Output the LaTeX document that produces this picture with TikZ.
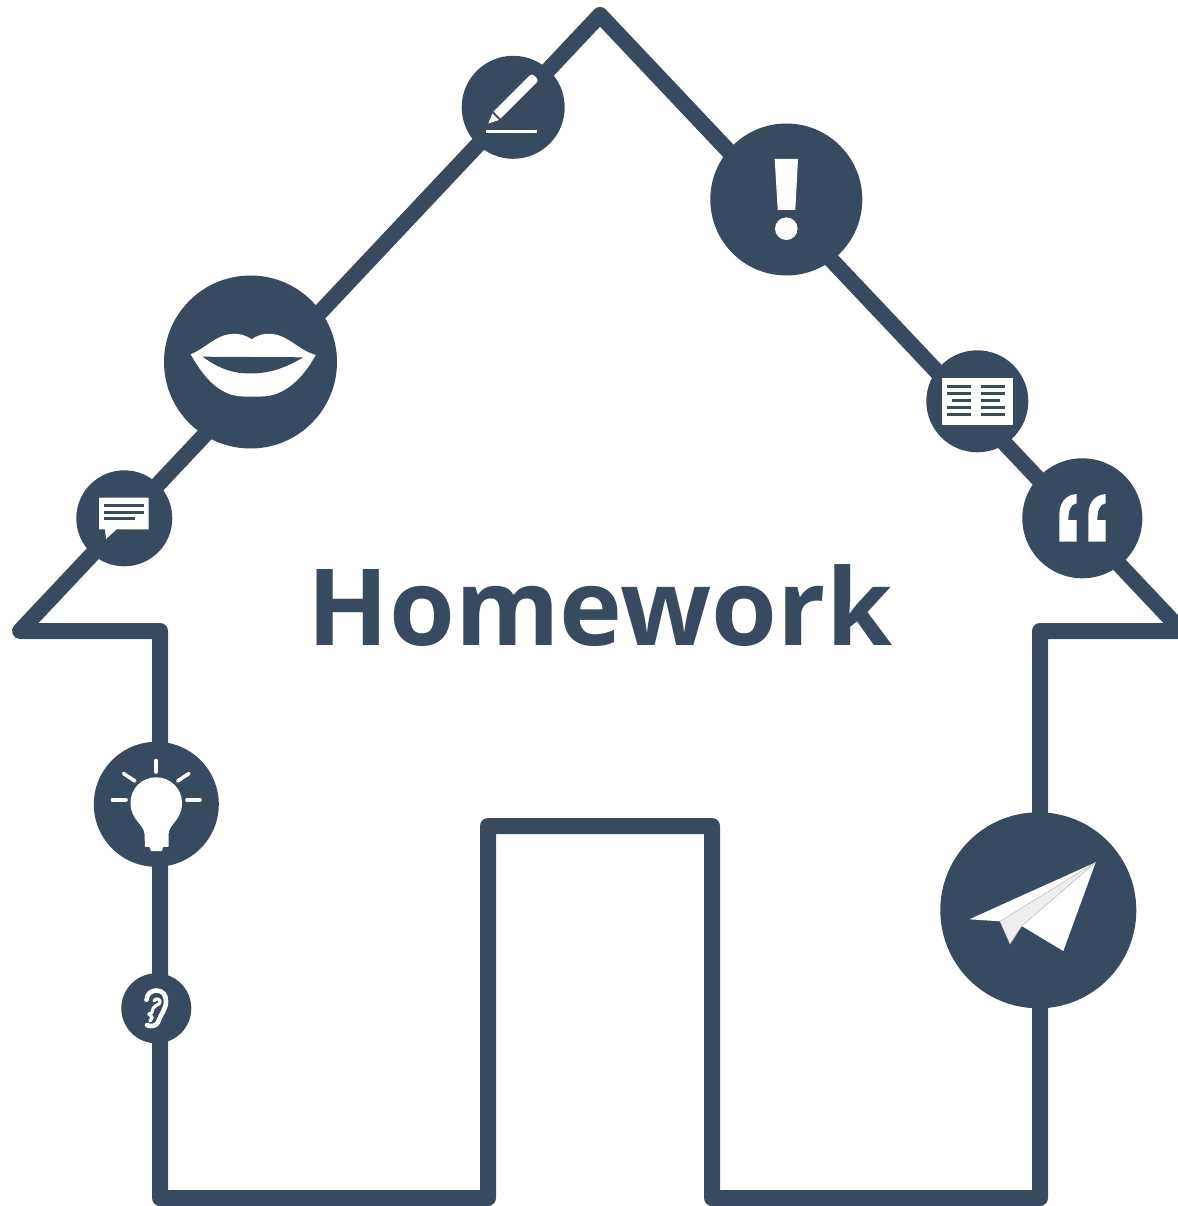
\documentclass[tikz,border=0pt]{standalone}
\usepackage{fontspec}
\setmainfont{Open Sans}
\definecolor{slate}{HTML}{384A60}
\definecolor{fold}{HTML}{EEEEEE}
\tikzset{
  x=1pt,y=-1pt,
  outline/.style={draw=slate,line width=16pt,line join=round,line cap=round},
  disc/.style={circle,fill=slate,draw=none,inner sep=0pt},
  icon/.style={fill=white,draw=none},
  darkbar/.style={draw=slate,line width=3pt},
  ray/.style={draw=white,line width=3.6pt,line cap=round},
  earline/.style={draw=white,line cap=round,line join=round},
}
\begin{document}
\begin{tikzpicture}
\useasboundingbox (0,0) rectangle (1177,1206);
% house outline
\coordinate (apex) at (600,15);
\coordinate (eaveL) at (20,631);
\coordinate (wallL) at (160,631);
\coordinate (footL) at (160,1198);
\coordinate (doorBL) at (488,1198);
\coordinate (doorTL) at (488,826);
\coordinate (doorTR) at (712,826);
\coordinate (doorBR) at (712,1198);
\coordinate (footR) at (1040,1198);
\coordinate (wallR) at (1040,631);
\coordinate (eaveR) at (1182,631);
\draw[outline] (apex) -- (eaveL) -- (wallL) -- (footL) -- (doorBL) -- (doorTL) -- (doorTR) -- (doorBR) -- (footR) -- (wallR) -- (eaveR) -- cycle;
% discs
\node[disc,minimum size=173pt] (mouth) at (250.5,362) {};
\node[disc,minimum size=96pt] (chat) at (124.3,518.3) {};
\node[disc,minimum size=103pt] (pencil) at (513.2,107.3) {};
\node[disc,minimum size=152pt] (bang) at (786.3,199.5) {};
\node[disc,minimum size=102pt] (book) at (977.3,401.3) {};
\node[disc,minimum size=120pt] (quote) at (1082.3,518.3) {};
\node[disc,minimum size=125pt] (bulb) at (156.3,804.3) {};
\node[disc,minimum size=70pt] (ear) at (156.3,1008.3) {};
\node[disc,minimum size=196pt] (plane) at (1038.3,910.3) {};
% title
\node[anchor=base,inner sep=0pt,text=slate,font=\fontsize{106.5}{106.5}\selectfont\bfseries] (title) at (600,645) {Homework};
% mouth icon
\fill[icon] (190.7,354.3) .. controls (205,349) and (215,335) .. (232,334)
  .. controls (240,333) and (247,336) .. (251.7,339.3)
  .. controls (256,336) and (263,333) .. (272,334)
  .. controls (288,335) and (298,350) .. (315.7,355)
  .. controls (303,378) and (285,396) .. (262,396.5)
  -- (243,396.5) .. controls (220,396) and (204,378) .. (190.7,354.3) -- cycle;
\fill[slate] (202.7,356.7) -- (303.3,357.3) .. controls (285,368) and (270,373.5) .. (250,373.5)
  .. controls (232,373.5) and (218,368) .. (202.7,356.7) -- cycle;
% chat icon
\fill[icon] (99,497.7) -- (148.7,497.7) -- (148.7,529.3) -- (116.7,529.3) -- (106,539) -- (105,529.3) -- (99,529.3) -- cycle;
\draw[darkbar] (104,505.7) -- (144,505.7);
\draw[darkbar] (104,512.3) -- (144,512.3);
\draw[darkbar] (104,518.3) -- (135,518.3);
% pencil icon
\fill[icon] (493.6,111.6) -- (529.5,75.6) .. controls (531,74) and (533,74.5) .. (534,75.5)
  -- (536.8,78.3) .. controls (538,79.5) and (538,81) .. (537,82) -- (500.6,118.4) -- cycle;
\fill[icon] (492.4,113.6) -- (499,120) -- (488.3,123.5) -- cycle;
\fill[icon] (486,130.2) rectangle (537,133);
% exclamation icon
\fill[icon] (774.7,159) -- (798,159) -- (795.3,210) -- (777.7,210) -- cycle;
\fill[icon] (786.3,228.7) circle[radius=11.3];
% book icon
\fill[icon] (941.7,378) rectangle (1012.7,424.7);
\draw[darkbar] (947,386.3) -- (971,386.3);
\draw[darkbar] (947,393.3) -- (971,393.3);
\draw[darkbar] (952,400.3) -- (971,400.3);
\draw[darkbar] (947,407.3) -- (971,407.3);
\draw[darkbar] (947,414.3) -- (971,414.3);
\draw[darkbar] (981,386.3) -- (1005,386.3);
\draw[darkbar] (981,393.3) -- (1005,393.3);
\draw[darkbar] (981,400.3) -- (1000,400.3);
\draw[darkbar] (981,407.3) -- (1005,407.3);
\draw[darkbar] (981,414.3) -- (1005,414.3);
% quote icon
\foreach \dx in {0,29}{
  \fill[icon,xshift=\dx pt] (1076.7,494) -- (1076.7,503.3) .. controls (1070,504) and (1068.5,511) .. (1068.3,520)
    -- (1076.7,520) -- (1076.7,541.7) -- (1059.3,541.7) -- (1059.3,516)
    .. controls (1059.3,503) and (1065,495) .. (1076.7,494) -- cycle;
}
% bulb icon
\fill[icon] (145,846.7) -- (144.5,834) .. controls (144,824) and (130.5,820) .. (130.5,803)
  .. controls (130.5,788) and (142,777.3) .. (156,777.3)
  .. controls (170,777.3) and (182,788) .. (182,803)
  .. controls (182,820) and (169,824) .. (168.5,834) -- (168.5,846.7)
  -- (163,847) -- (162,851) -- (151,851) -- (149.5,847) -- cycle;
\draw[ray] (156,760.5) -- (156,772);
\draw[ray] (123.5,773.5) -- (135,781);
\draw[ray] (189,773.5) -- (177.7,781);
\draw[ray] (112.5,800) -- (126,800);
\draw[ray] (187,800) -- (200,800);
% ear icon
\draw[earline,line width=4.6pt] (146.5,999.7) .. controls (147,993) and (152,990.5) .. (156.5,990.5)
  .. controls (163,990.5) and (166,995) .. (166,1001.3)
  .. controls (166,1009) and (161,1014) .. (159,1019.7)
  .. controls (158,1024) and (155,1026.3) .. (150,1026) -- (147,1025);
\draw[earline,line width=3.2pt] (154,1001) .. controls (155,998.5) and (159,998) .. (160,1001.3)
  .. controls (160.5,1005) and (155,1005) .. (153.3,1008)
  -- (151.7,1013) -- (148.8,1014) -- (152.3,1017.3) -- (150,1021);
% plane icon
\fill[icon] (1095.7,862.3) -- (969.3,919.3) -- (1000,921.3) -- cycle;
\fill[icon] (1095.7,862.3) -- (1063.3,951) -- (1021.7,926) -- cycle;
\filldraw[fill=fold,draw=black!25,line width=0.5pt] (1095.7,862.3) -- (1000,921.3) -- (1010,944) -- (1021.7,926) -- cycle;
\end{tikzpicture}
\end{document}
